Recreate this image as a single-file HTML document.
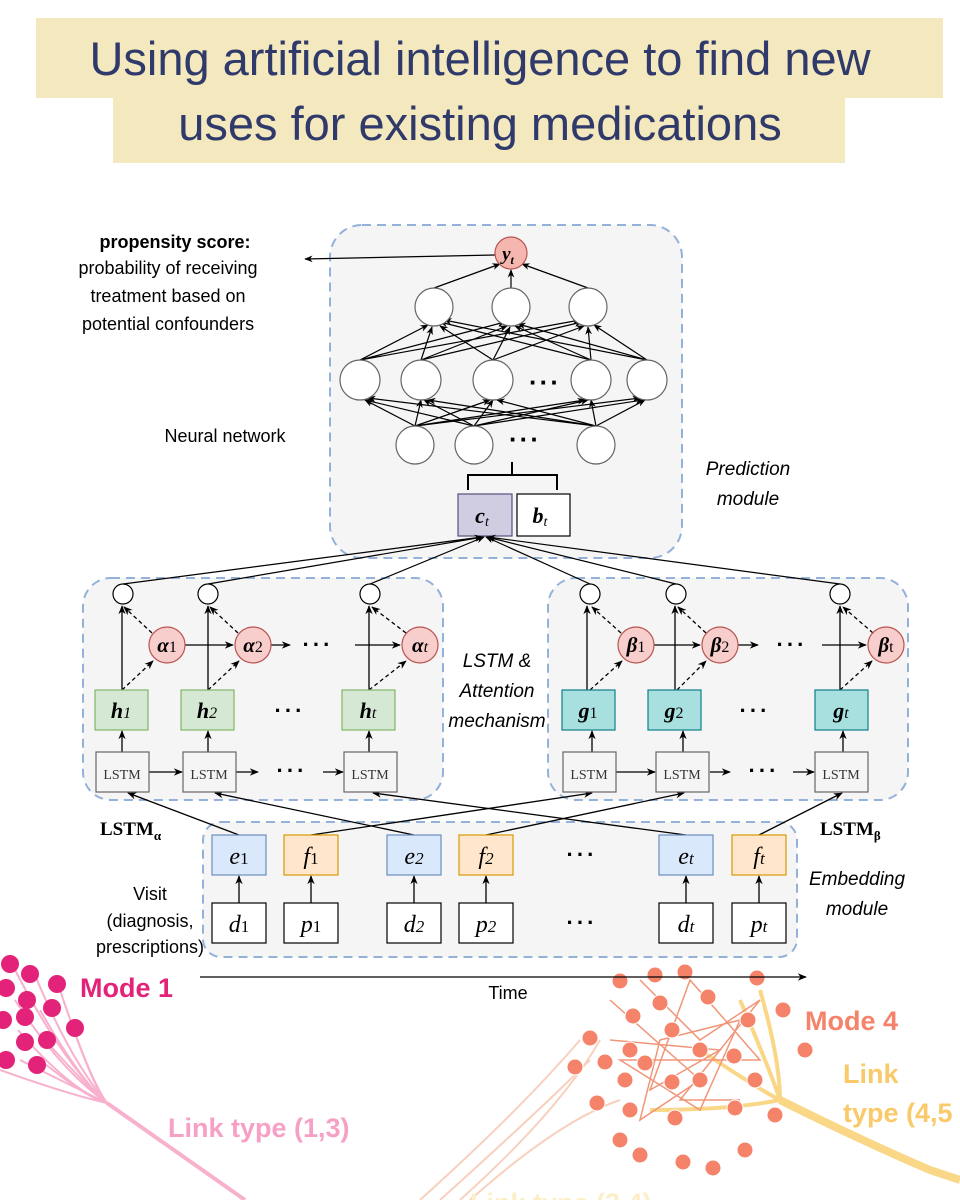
<!DOCTYPE html>
<html><head><meta charset="utf-8"><style>
html,body{margin:0;padding:0;background:#fff}
svg{display:block}
.s{font-family:"Liberation Sans",sans-serif}
.r{font-family:"Liberation Serif",serif}
</style></head><body>
<svg width="960" height="1200" viewBox="0 0 960 1200" xmlns="http://www.w3.org/2000/svg">
<defs>
<marker id="a" viewBox="0 0 10 10" refX="9" refY="5" markerWidth="7" markerHeight="7" orient="auto"><path d="M0,1 L10,5 L0,9 L3,5z" fill="#000"/></marker>
</defs>
<!-- decorations -->
<g stroke-width="2" fill="none" opacity="0.9">
<g stroke="#f7a8c8">
<path d="M107,1103 L245,1200" stroke-width="4"/>
<path d="M10,960 Q60,1060 107,1103"/><path d="M35,975 Q70,1060 107,1103"/><path d="M15,1000 Q60,1070 107,1103"/><path d="M40,1010 Q80,1080 107,1103"/><path d="M18,1030 Q70,1090 107,1103"/><path d="M45,1040 Q90,1090 107,1103"/><path d="M20,1060 Q80,1090 107,1103"/><path d="M40,1060 Q90,1100 107,1103"/><path d="M72,1025 Q95,1090 107,1103"/><path d="M60,990 Q90,1080 107,1103"/><path d="M0,1070 Q70,1095 107,1103"/>
</g>
<g stroke="#f8cbb8"><path d="M420,1200 Q520,1110 580,1040"/><path d="M440,1200 Q540,1110 590,1060"/><path d="M460,1200 Q560,1110 600,1040"/><path d="M470,1200 Q560,1120 620,1100"/></g>
<g stroke="#f9d37a" stroke-width="4"><path d="M780,1100 Q860,1140 930,1170 L960,1180" stroke-width="8"/><path d="M700,1050 Q760,1090 780,1100"/><path d="M740,1000 Q770,1070 780,1100"/><path d="M650,1110 Q730,1110 780,1100"/><path d="M760,990 Q780,1060 780,1100"/></g>
<g stroke="#f08a6a" stroke-width="1.5"><path d="M610,1000 L700,1080 L640,1120 L660,1040 L740,1020 L700,1110 L620,1060 L760,1060 L690,980 L650,1090 L720,1050 L610,1040"/><path d="M640,980 L700,1040 L760,1000 L680,1100 L740,1100"/></g>
</g>
<g fill="#e3237a">
<circle cx="10" cy="964" r="9"/><circle cx="30" cy="974" r="9"/><circle cx="6" cy="988" r="9"/><circle cx="27" cy="1000" r="9"/><circle cx="57" cy="984" r="9"/><circle cx="3" cy="1020" r="9"/><circle cx="25" cy="1017" r="9"/><circle cx="52" cy="1008" r="9"/><circle cx="25" cy="1042" r="9"/><circle cx="47" cy="1040" r="9"/><circle cx="75" cy="1028" r="9"/><circle cx="6" cy="1060" r="9"/><circle cx="37" cy="1065" r="9"/>
</g>
<g fill="#f4836a" stroke="#fff" stroke-width="1">
<circle cx="620" cy="981" r="8"/><circle cx="655" cy="975" r="8"/><circle cx="685" cy="972" r="8"/><circle cx="757" cy="978" r="8"/><circle cx="708" cy="997" r="8"/><circle cx="660" cy="1003" r="8"/><circle cx="633" cy="1016" r="8"/><circle cx="783" cy="1010" r="8"/><circle cx="748" cy="1020" r="8"/><circle cx="672" cy="1030" r="8"/><circle cx="590" cy="1038" r="8"/><circle cx="630" cy="1050" r="8"/><circle cx="700" cy="1050" r="8"/><circle cx="575" cy="1067" r="8"/><circle cx="605" cy="1062" r="8"/><circle cx="645" cy="1063" r="8"/><circle cx="734" cy="1056" r="8"/><circle cx="805" cy="1050" r="8"/><circle cx="625" cy="1080" r="8"/><circle cx="672" cy="1082" r="8"/><circle cx="700" cy="1080" r="8"/><circle cx="755" cy="1080" r="8"/><circle cx="597" cy="1103" r="8"/><circle cx="630" cy="1110" r="8"/><circle cx="675" cy="1118" r="8"/><circle cx="735" cy="1108" r="8"/><circle cx="775" cy="1115" r="8"/><circle cx="620" cy="1140" r="8"/><circle cx="640" cy="1155" r="8"/><circle cx="683" cy="1162" r="8"/><circle cx="713" cy="1168" r="8"/><circle cx="745" cy="1150" r="8"/>
</g>
<text x="80" y="997" class="s" font-size="27" font-weight="bold" fill="#e3237a">Mode 1</text>
<text x="805" y="1030" class="s" font-size="27" font-weight="bold" fill="#f4836a">Mode 4</text>
<text x="168" y="1137" class="s" font-size="27" font-weight="bold" fill="#f7a0c6">Link type (1,3)</text>
<text x="843" y="1083" class="s" font-size="27" font-weight="bold" fill="#f9c96a">Link</text>
<text x="843" y="1122" class="s" font-size="27" font-weight="bold" fill="#f9c96a">type (4,5</text>
<text x="470" y="1212" class="s" font-size="27" font-weight="bold" fill="#fcefc8">Link type (3,4)</text>

<!-- title -->
<rect x="36" y="18" width="907" height="80" fill="#f4e8bf"/>
<rect x="113" y="97" width="732" height="66" fill="#f4e8bf"/>
<text x="480" y="75" text-anchor="middle" class="s" font-size="47" fill="#2f3a6b">Using artificial intelligence to find new</text>
<text x="480" y="140" text-anchor="middle" class="s" font-size="47" fill="#2f3a6b">uses for existing medications</text>

<!-- module boxes -->
<g fill="#f5f5f5" stroke="#93b1d9" stroke-width="2" stroke-dasharray="9,6">
<rect x="330" y="225" width="352" height="333" rx="32"/>
<rect x="83" y="578" width="360" height="222" rx="28"/>
<rect x="548" y="578" width="360" height="222" rx="28"/>
<rect x="203" y="822" width="594" height="135" rx="18"/>
</g>

<!-- NN edges -->
<g stroke="#000" stroke-width="1.2" marker-end="url(#a)">
<line x1="415" y1="426" x2="365" y2="400"/><line x1="415" y1="426" x2="421" y2="400"/><line x1="415" y1="426" x2="490" y2="400"/><line x1="415" y1="426" x2="585" y2="400"/><line x1="415" y1="426" x2="640" y2="398"/>
<line x1="474" y1="426" x2="365" y2="400"/><line x1="474" y1="426" x2="424" y2="400"/><line x1="474" y1="426" x2="493" y2="400"/><line x1="474" y1="426" x2="588" y2="400"/><line x1="474" y1="426" x2="643" y2="400"/>
<line x1="596" y1="426" x2="368" y2="398"/><line x1="596" y1="426" x2="428" y2="400"/><line x1="596" y1="426" x2="497" y2="400"/><line x1="596" y1="426" x2="591" y2="400"/><line x1="596" y1="426" x2="645" y2="400"/>
<line x1="360" y1="360" x2="428" y2="325"/><line x1="360" y1="360" x2="505" y2="322"/><line x1="360" y1="360" x2="580" y2="320"/>
<line x1="421" y1="360" x2="432" y2="327"/><line x1="421" y1="360" x2="507" y2="326"/><line x1="421" y1="360" x2="582" y2="322"/>
<line x1="493" y1="360" x2="440" y2="326"/><line x1="493" y1="360" x2="510" y2="327"/><line x1="493" y1="360" x2="584" y2="326"/>
<line x1="591" y1="360" x2="440" y2="322"/><line x1="591" y1="360" x2="515" y2="326"/><line x1="591" y1="360" x2="588" y2="327"/>
<line x1="647" y1="360" x2="444" y2="320"/><line x1="647" y1="360" x2="518" y2="324"/><line x1="647" y1="360" x2="594" y2="325"/>
<line x1="434" y1="288" x2="500" y2="264"/><line x1="511" y1="288" x2="511" y2="270"/><line x1="588" y1="288" x2="522" y2="264"/>
<line x1="495" y1="255" x2="305" y2="259"/>
</g>
<g fill="#fff" stroke="#666" stroke-width="1.2">
<circle cx="434" cy="307" r="19"/><circle cx="511" cy="307" r="19"/><circle cx="588" cy="307" r="19"/>
<circle cx="360" cy="380" r="20"/><circle cx="421" cy="380" r="20"/><circle cx="493" cy="380" r="20"/><circle cx="591" cy="380" r="20"/><circle cx="647" cy="380" r="20"/>
<circle cx="415" cy="445" r="19"/><circle cx="474" cy="445" r="19"/><circle cx="596" cy="445" r="19"/>
</g>
<circle cx="511" cy="253" r="16" fill="#f4b6ae" stroke="#b85450" stroke-width="1.2"/>
<text x="508" y="260" class="r" font-size="19" font-style="italic" font-weight="bold" text-anchor="middle">y<tspan font-size="12" dy="4">t</tspan></text>
<text x="545" y="391" class="s" font-size="26" font-weight="bold" text-anchor="middle" letter-spacing="2">···</text>
<text x="525" y="448" class="s" font-size="26" font-weight="bold" text-anchor="middle" letter-spacing="2">···</text>
<path d="M512,462 V475 M468,490 V475 H557 V490" stroke="#000" stroke-width="2" fill="none"/>
<rect x="458" y="494" width="54" height="42" fill="#d0cde2" stroke="#56517e" stroke-width="1.2"/>
<rect x="517" y="494" width="53" height="42" fill="#fff" stroke="#000" stroke-width="1.2"/>
<text x="482" y="523" class="r" font-size="22" font-style="italic" font-weight="bold" text-anchor="middle">c<tspan font-size="14" font-weight="normal" dy="3">t</tspan></text>
<text x="540" y="523" class="r" font-size="22" font-style="italic" font-weight="bold" text-anchor="middle">b<tspan font-size="14" font-weight="normal" dy="3">t</tspan></text>

<text x="175" y="248" class="s" font-size="18" font-weight="bold" text-anchor="middle">propensity score:</text>
<text x="168" y="274" class="s" font-size="18" text-anchor="middle">probability of receiving</text>
<text x="168" y="302" class="s" font-size="18" text-anchor="middle">treatment based on</text>
<text x="168" y="330" class="s" font-size="18" text-anchor="middle">potential confounders</text>
<text x="225" y="442" class="s" font-size="18" text-anchor="middle">Neural network</text>
<text x="748" y="475" class="s" font-size="19" font-style="italic" text-anchor="middle">Prediction</text>
<text x="748" y="505" class="s" font-size="19" font-style="italic" text-anchor="middle">module</text>
<text x="497" y="667" class="s" font-size="19" font-style="italic" text-anchor="middle">LSTM &amp;</text>
<text x="497" y="697" class="s" font-size="19" font-style="italic" text-anchor="middle">Attention</text>
<text x="497" y="727" class="s" font-size="19" font-style="italic" text-anchor="middle">mechanism</text>
<text x="857" y="885" class="s" font-size="19" font-style="italic" text-anchor="middle">Embedding</text>
<text x="857" y="915" class="s" font-size="19" font-style="italic" text-anchor="middle">module</text>
<text x="150" y="900" class="s" font-size="18" text-anchor="middle">Visit</text>
<text x="150" y="927" class="s" font-size="18" text-anchor="middle">(diagnosis,</text>
<text x="150" y="953" class="s" font-size="18" text-anchor="middle">prescriptions)</text>

<!-- lines to c_t -->
<g stroke="#000" stroke-width="1.2" marker-end="url(#a)">
<line x1="123" y1="584" x2="482" y2="537"/><line x1="208" y1="584" x2="483" y2="537"/><line x1="370" y1="584" x2="484" y2="537"/>
<line x1="590" y1="584" x2="486" y2="537"/><line x1="676" y1="584" x2="487" y2="537"/><line x1="840" y1="584" x2="488" y2="537"/>
</g>

<g stroke="#000" stroke-width="1.3" fill="none">
<g marker-end="url(#a)">
<line x1="122" y1="690" x2="122" y2="606"/><line x1="208" y1="690" x2="208" y2="606"/><line x1="369" y1="690" x2="369" y2="606"/>
<line x1="587" y1="690" x2="587" y2="606"/><line x1="675" y1="690" x2="675" y2="606"/><line x1="840" y1="690" x2="840" y2="606"/>
<line x1="122" y1="752" x2="122" y2="731"/><line x1="208" y1="752" x2="208" y2="731"/><line x1="369" y1="752" x2="369" y2="731"/>
<line x1="592" y1="752" x2="592" y2="731"/><line x1="683" y1="752" x2="683" y2="731"/><line x1="843" y1="752" x2="843" y2="731"/>
<line x1="185" y1="645" x2="233" y2="645"/><line x1="271" y1="645" x2="290" y2="645"/><line x1="355" y1="645" x2="400" y2="645"/>
<line x1="654" y1="645" x2="700" y2="645"/><line x1="738" y1="645" x2="758" y2="645"/><line x1="822" y1="645" x2="866" y2="645"/>
<line x1="149" y1="772" x2="182" y2="772"/><line x1="236" y1="772" x2="258" y2="772"/><line x1="323" y1="772" x2="343" y2="772"/>
<line x1="616" y1="772" x2="655" y2="772"/><line x1="710" y1="772" x2="730" y2="772"/><line x1="793" y1="772" x2="814" y2="772"/>
<line x1="239" y1="835" x2="128" y2="793"/><line x1="414" y1="835" x2="215" y2="793"/><line x1="686" y1="835" x2="373" y2="793"/>
<line x1="311" y1="835" x2="592" y2="793"/><line x1="486" y1="835" x2="684" y2="793"/><line x1="759" y1="835" x2="842" y2="793"/>
<line x1="239" y1="903" x2="239" y2="876"/><line x1="311" y1="903" x2="311" y2="876"/><line x1="414" y1="903" x2="414" y2="876"/><line x1="486" y1="903" x2="486" y2="876"/><line x1="686" y1="903" x2="686" y2="876"/><line x1="759" y1="903" x2="759" y2="876"/>
<line x1="200" y1="977" x2="806" y2="977"/>
</g>
<g stroke-dasharray="4,3" marker-end="url(#a)">
<line x1="122" y1="690" x2="153" y2="661"/><line x1="208" y1="690" x2="239" y2="661"/><line x1="369" y1="690" x2="406" y2="661"/>
<line x1="152" y1="633" x2="124" y2="607"/><line x1="238" y1="633" x2="210" y2="607"/><line x1="406" y1="633" x2="372" y2="607"/>
<line x1="590" y1="690" x2="622" y2="661"/><line x1="677" y1="690" x2="706" y2="661"/><line x1="840" y1="690" x2="872" y2="661"/>
<line x1="621" y1="633" x2="592" y2="607"/><line x1="706" y1="633" x2="678" y2="607"/><line x1="873" y1="633" x2="843" y2="607"/>
</g>
</g>
<g fill="#fff" stroke="#000" stroke-width="1.2">
<circle cx="123" cy="594" r="10"/><circle cx="208" cy="594" r="10"/><circle cx="370" cy="594" r="10"/>
<circle cx="590" cy="594" r="10"/><circle cx="676" cy="594" r="10"/><circle cx="840" cy="594" r="10"/>
</g>
<g fill="#f8cecc" stroke="#b85450" stroke-width="1.2">
<circle cx="167" cy="645" r="18"/><circle cx="253" cy="645" r="18"/><circle cx="420" cy="645" r="18"/>
<circle cx="636" cy="645" r="18"/><circle cx="720" cy="645" r="18"/><circle cx="886" cy="645" r="18"/>
</g>
<g class="r" font-size="21" font-weight="bold" font-style="italic" text-anchor="middle">
<text x="167" y="652">α<tspan font-weight="normal" font-style="normal" font-size="16">1</tspan></text>
<text x="253" y="652">α<tspan font-weight="normal" font-style="normal" font-size="16">2</tspan></text>
<text x="420" y="652">α<tspan font-weight="normal" font-size="16">t</tspan></text>
<text x="636" y="652">β<tspan font-weight="normal" font-style="normal" font-size="16">1</tspan></text>
<text x="720" y="652">β<tspan font-weight="normal" font-style="normal" font-size="16">2</tspan></text>
<text x="886" y="652">β<tspan font-weight="normal" font-style="normal" font-size="16">t</tspan></text>
</g>
<g class="s" font-size="22" font-weight="bold" text-anchor="middle" letter-spacing="3">
<text x="318" y="652">···</text><text x="792" y="652">···</text>
<text x="290" y="718">···</text><text x="755" y="718">···</text>
<text x="292" y="778">···</text><text x="764" y="778">···</text>
<text x="582" y="862">···</text><text x="582" y="930">···</text>
</g>
<g fill="#d5e8d4" stroke="#82b366" stroke-width="1.2">
<rect x="95" y="690" width="53" height="40"/><rect x="181" y="690" width="53" height="40"/><rect x="342" y="690" width="53" height="40"/>
</g>
<g fill="#a8e0e0" stroke="#0e8088" stroke-width="1.2">
<rect x="562" y="690" width="53" height="40"/><rect x="648" y="690" width="53" height="40"/><rect x="815" y="690" width="53" height="40"/>
</g>
<g class="r" font-size="22" font-weight="bold" font-style="italic" text-anchor="middle">
<text x="121" y="718">h<tspan font-weight="normal" font-size="16">1</tspan></text>
<text x="207" y="718">h<tspan font-weight="normal" font-size="16">2</tspan></text>
<text x="368" y="718">h<tspan font-weight="normal" font-size="16">t</tspan></text>
<text x="588" y="718">g<tspan font-weight="normal" font-style="normal" font-size="16">1</tspan></text>
<text x="674" y="718">g<tspan font-weight="normal" font-style="normal" font-size="16">2</tspan></text>
<text x="841" y="718">g<tspan font-weight="normal" font-size="16">t</tspan></text>
</g>
<g fill="#f5f5f5" stroke="#666" stroke-width="1.2">
<rect x="96" y="752" width="53" height="40"/><rect x="183" y="752" width="53" height="40"/><rect x="344" y="752" width="53" height="40"/>
<rect x="563" y="752" width="53" height="40"/><rect x="656" y="752" width="53" height="40"/><rect x="815" y="752" width="53" height="40"/>
</g>
<g class="r" font-size="14" fill="#333" text-anchor="middle">
<text x="122" y="779">LSTM</text><text x="209" y="779">LSTM</text><text x="370" y="779">LSTM</text>
<text x="589" y="779">LSTM</text><text x="682" y="779">LSTM</text><text x="841" y="779">LSTM</text>
</g>
<text x="100" y="835" class="r" font-size="19" font-weight="bold">LSTM<tspan font-size="13" dy="5">α</tspan></text>
<text x="820" y="835" class="r" font-size="19" font-weight="bold">LSTM<tspan font-size="13" dy="5">β</tspan></text>

<!-- embedding -->
<g fill="#dae8fc" stroke="#6c8ebf" stroke-width="1.2">
<rect x="212" y="835" width="54" height="40"/><rect x="387" y="835" width="54" height="40"/><rect x="659" y="835" width="54" height="40"/>
</g>
<g fill="#ffe6cc" stroke="#d79b00" stroke-width="1.2">
<rect x="284" y="835" width="54" height="40"/><rect x="459" y="835" width="54" height="40"/><rect x="732" y="835" width="54" height="40"/>
</g>
<g fill="#fff" stroke="#000" stroke-width="1.2">
<rect x="212" y="903" width="54" height="40"/><rect x="284" y="903" width="54" height="40"/><rect x="387" y="903" width="54" height="40"/><rect x="459" y="903" width="54" height="40"/><rect x="659" y="903" width="54" height="40"/><rect x="732" y="903" width="54" height="40"/>
</g>
<g class="r" font-size="24" font-style="italic" text-anchor="middle">
<text x="239" y="864">e<tspan font-style="normal" font-size="17">1</tspan></text>
<text x="311" y="864">f<tspan font-style="normal" font-size="17">1</tspan></text>
<text x="414" y="864">e<tspan font-size="17">2</tspan></text>
<text x="486" y="864">f<tspan font-size="17">2</tspan></text>
<text x="686" y="864">e<tspan font-size="17">t</tspan></text>
<text x="759" y="864">f<tspan font-size="17">t</tspan></text>
<text x="239" y="932">d<tspan font-style="normal" font-size="17">1</tspan></text>
<text x="311" y="932">p<tspan font-style="normal" font-size="17">1</tspan></text>
<text x="414" y="932">d<tspan font-size="17">2</tspan></text>
<text x="486" y="932">p<tspan font-size="17">2</tspan></text>
<text x="686" y="932">d<tspan font-size="17">t</tspan></text>
<text x="759" y="932">p<tspan font-size="17">t</tspan></text>
</g>
<text x="508" y="999" class="s" font-size="18" text-anchor="middle">Time</text>
</svg>
</body></html>
